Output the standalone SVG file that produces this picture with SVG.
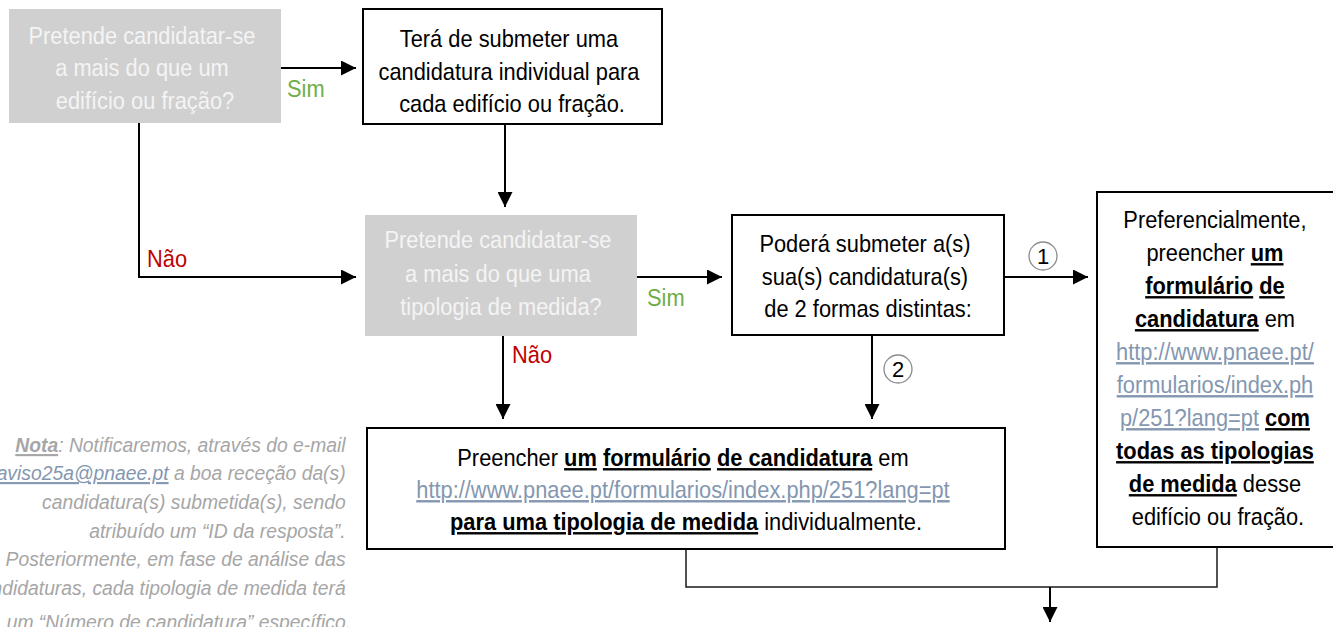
<svg xmlns="http://www.w3.org/2000/svg" width="1333" height="627" viewBox="0 0 1333 627">
<style>
text{font-family:"Liberation Sans",Arial,sans-serif;font-size:24px;}
.box{fill:#ffffff;stroke:#000000;stroke-width:2;}
.q{fill:#d0d0d0;stroke:none;}
.qt{fill:#f4f4f4;}
.bt{fill:#000000;}
.b{font-weight:bold;text-decoration:underline;}
.u{text-decoration:underline;}
.lnk{fill:#8497b0;text-decoration:underline;}
.yes{fill:#70ad47;}
.no{fill:#c00000;}
.note{fill:#a6a6a6;font-style:italic;font-size:21px;}
.conn{fill:none;stroke:#000000;stroke-width:2;}
.thin{fill:none;stroke:#1a1a1a;stroke-width:1.5;}
.circ{fill:none;stroke:#8c8c8c;stroke-width:1.3;}
</style>
<defs>
<marker id="ah" markerUnits="userSpaceOnUse" markerWidth="15" markerHeight="15" refX="15" refY="7.5" orient="auto">
<path d="M0,0 L15,7.5 L0,15 z" fill="#000000"/>
</marker>
</defs>

<g id="connectors">
<line class="conn" x1="281" y1="68" x2="356" y2="68" marker-end="url(#ah)"/>
<polyline class="conn" points="139,123 139,277 356,277" marker-end="url(#ah)"/>
<line class="conn" x1="505" y1="124" x2="505" y2="207" marker-end="url(#ah)"/>
<line class="conn" x1="637" y1="277" x2="722" y2="277" marker-end="url(#ah)"/>
<line class="conn" x1="1004" y1="277" x2="1088" y2="277" marker-end="url(#ah)"/>
<line class="conn" x1="872" y1="335" x2="872" y2="419" marker-end="url(#ah)"/>
<line class="conn" x1="503" y1="336" x2="503" y2="419" marker-end="url(#ah)"/>
<polyline class="thin" points="686,549 686,587 1217,587 1217,547"/>
<line class="conn" x1="1050" y1="587" x2="1050" y2="622" marker-end="url(#ah)"/>
<g transform="translate(287 0) scale(0.91 1)"><text class="yes" x="0" y="97">Sim</text></g>
<g transform="translate(647 0) scale(0.91 1)"><text class="yes" x="0" y="306">Sim</text></g>
<g transform="translate(147 0) scale(0.91 1)"><text class="no" x="0" y="267">Não</text></g>
<g transform="translate(512 0) scale(0.91 1)"><text class="no" x="0" y="363">Não</text></g>
<circle class="circ" cx="1043" cy="256" r="14"/>
<text class="bt" x="1043" y="264" text-anchor="middle" style="font-size:22px">1</text>
<circle class="circ" cx="898" cy="369" r="14"/>
<text class="bt" x="898" y="377" text-anchor="middle" style="font-size:22px">2</text>
</g>

<g id="q1">
<rect class="q" x="9" y="9" width="272" height="114"/>
<text class="qt" text-anchor="middle" transform="translate(145 0) scale(0.91 1)">
<tspan x="0" y="44">Pretende candidatar-se</tspan>
<tspan x="0" y="76.5">a mais do que um</tspan>
<tspan x="0" y="109">edifício ou fração?</tspan>
</text>
</g>

<g id="n-individual">
<rect class="box" x="363" y="9" width="299" height="115"/>
<text class="bt" text-anchor="middle" transform="translate(512 0) scale(0.91 1)">
<tspan x="0" y="47">Terá de submeter uma</tspan>
<tspan x="0" y="80">candidatura individual para</tspan>
<tspan x="0" y="112">cada edifício ou fração.</tspan>
</text>
</g>

<g id="q2">
<rect class="q" x="365" y="215" width="272" height="121"/>
<text class="qt" text-anchor="middle" transform="translate(501 0) scale(0.91 1)">
<tspan x="0" y="248">Pretende candidatar-se</tspan>
<tspan x="0" y="282">a mais do que uma</tspan>
<tspan x="0" y="315">tipologia de medida?</tspan>
</text>
</g>

<g id="n-formas">
<rect class="box" x="732" y="215" width="272" height="120"/>
<text class="bt" text-anchor="middle" transform="translate(868 0) scale(0.91 1)">
<tspan x="0" y="252">Poderá submeter a(s)</tspan>
<tspan x="0" y="285">sua(s) candidatura(s)</tspan>
<tspan x="0" y="317">de 2 formas distintas:</tspan>
</text>
</g>

<g id="n-todas">
<rect class="box" x="1097" y="192" width="245" height="355"/>
<text class="bt" text-anchor="middle" transform="translate(1218 0) scale(0.91 1)">
<tspan x="0" y="228">Preferencialmente,</tspan>
<tspan x="0" y="261">preencher <tspan class="b">um</tspan></tspan>
<tspan x="0" y="294"><tspan class="b">formulário</tspan> <tspan class="b">de</tspan></tspan>
<tspan x="0" y="327"><tspan class="b">candidatura</tspan> em</tspan>
<tspan x="0" y="360" class="lnk">http://www.pnaee.pt/</tspan>
<tspan x="0" y="393" class="lnk">formularios/index.ph</tspan>
<tspan x="0" y="426"><tspan class="lnk">p/251?lang=pt</tspan> <tspan class="b">com</tspan></tspan>
<tspan x="0" y="459" class="b">todas as tipologias</tspan>
<tspan x="0" y="492"><tspan class="b">de medida</tspan> desse</tspan>
<tspan x="0" y="525">edifício ou fração.</tspan>
</text>
</g>

<g id="n-individualmente">
<rect class="box" x="367" y="428" width="638" height="121"/>
<text class="bt" text-anchor="middle" transform="translate(686 0) scale(0.91 1)">
<tspan x="0" y="466">Preencher <tspan class="b">um</tspan> <tspan class="b">formulário</tspan> <tspan class="b">de candidatura</tspan> em</tspan>
<tspan x="0" y="498" class="lnk">http://www.pnaee.pt/formularios/index.php/251?lang=pt</tspan>
<tspan x="0" y="530"><tspan class="b">para uma tipologia de medida</tspan> individualmente.</tspan>
</text>
</g>

<g id="note">
<text class="note" text-anchor="end" transform="translate(351 0) scale(0.92 1)">
<tspan x="0" y="452"><tspan class="b">Nota</tspan>: Notificaremos, através do e-mail</tspan>
<tspan x="0" y="480"><tspan class="lnk">aviso25a@pnaee.pt</tspan> a boa receção da(s)</tspan>
<tspan x="0" y="509">candidatura(s) submetida(s), sendo</tspan>
<tspan x="0" y="538">atribuído um “ID da resposta”.</tspan>
<tspan x="0" y="566">Posteriormente, em fase de análise das</tspan>
<tspan x="0" y="595">candidaturas, cada tipologia de medida terá</tspan>
<tspan x="0" y="629">um “Número de candidatura” específico.</tspan>
</text>
</g>
</svg>
